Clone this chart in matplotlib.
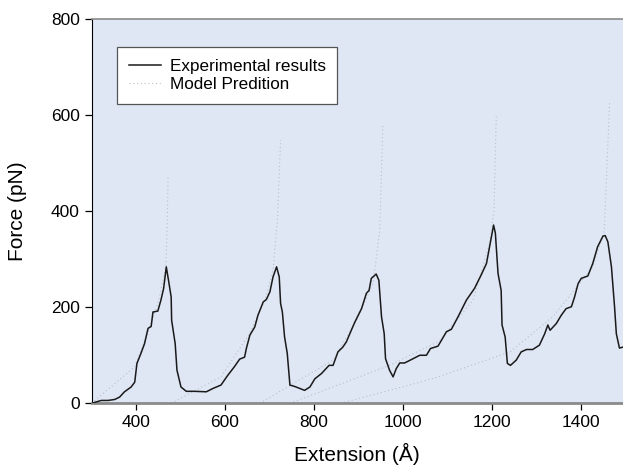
import matplotlib
matplotlib.use("Agg")
import matplotlib.pyplot as plt

plt.rcParams.update({"font.family": "Liberation Sans", "font.size": 12})

# experimental force-extension trace
ext_x = [300, 322, 337, 352, 363, 374, 389, 397, 402, 411, 419, 427, 434, 438, 449,
         456, 462, 468, 473, 479, 480, 488, 492, 501, 513, 531, 558, 573, 591, 606,
         621, 633, 644, 648, 656, 667, 674, 686, 693, 701, 708, 716, 722, 725, 729,
         734, 740, 746, 757, 768, 779, 791, 802, 817, 834, 843, 854, 865, 873, 884,
         892, 907, 918, 924, 929, 940, 946, 952, 958, 961, 970, 978, 985, 993, 1004,
         1019, 1038, 1053, 1062, 1079, 1098, 1109, 1124, 1143, 1161, 1176, 1188, 1195,
         1204, 1208, 1214, 1221, 1223, 1230, 1235, 1242, 1255, 1266, 1278, 1292, 1307,
         1319, 1326, 1331, 1345, 1356, 1367, 1379, 1386, 1394, 1401, 1416, 1427, 1438,
         1450, 1455, 1461, 1469, 1476, 1480, 1487, 1495]
ext_f = [0, 6, 6, 8, 13, 24, 34, 44, 83, 104, 124, 156, 160, 190, 192,
         215, 239, 284, 256, 221, 173, 124, 69, 34, 25, 25, 24, 31, 38, 58,
         76, 92, 96, 114, 142, 159, 183, 211, 216, 232, 263, 284, 263, 208, 190,
         138, 104, 38, 35, 31, 27, 34, 51, 62, 79, 79, 107, 117, 128, 152,
         169, 197, 229, 235, 260, 269, 256, 180, 145, 93, 69, 55, 72, 84, 84,
         91, 100, 100, 114, 119, 149, 154, 180, 215, 239, 267, 291, 326,
         371, 354, 270, 235, 163, 138, 83, 79, 90, 107, 112, 112, 121,
         145, 163, 152, 166, 183, 197, 201, 221, 249, 260, 265, 291, 326,
         348, 349, 336, 284, 201, 145, 115, 117]

# model prediction, one curve per unfolding event
model_x = [
    [300, 397, 426, 450, 467, 470, 472],
    [479, 591, 655, 690, 708, 718, 725],
    [678, 746, 843, 896, 933, 948, 955],
    [746, 970, 1038, 1083, 1158, 1195, 1205, 1210],
    [860, 970, 1038, 1083, 1241, 1337, 1427, 1453, 1465],
]
model_f = [
    [0, 76, 146, 210, 284, 370, 471],
    [0, 55, 145, 215, 277, 380, 548],
    [0, 37, 90, 173, 249, 360, 579],
    [0, 79, 110, 130, 215, 333, 400, 600],
    [0, 27, 44, 56, 107, 180, 284, 360, 628],
]

fig = plt.figure(figsize=(6.23, 4.72), dpi=100)
ax = fig.add_axes([0.147, 0.1455, 0.853, 0.8145])
ax.set_facecolor("#dfe6f4")

for i, (mx, mf) in enumerate(zip(model_x, model_f)):
    ax.plot(mx, mf, color="#b9c0cc", lw=0.8, ls=(0, (1, 2.4)),
            label="Model Predition" if i == 0 else None, zorder=2)
ax.plot(ext_x, ext_f, color="#1a1a1a", lw=1.1, label="Experimental results", zorder=3)

ax.set_xlim(300, 1495)
ax.set_ylim(0, 800)
ax.set_xticks([400, 600, 800, 1000, 1200, 1400])
ax.set_yticks([0, 200, 400, 600, 800])
ax.tick_params(direction="out", length=5, width=0.9, labelsize=12.5)
ax.set_xlabel("Extension (Å)", fontsize=15, labelpad=9)
ax.set_ylabel("Force (pN)", fontsize=15, labelpad=17)

ax.spines["right"].set_visible(False)
ax.spines["left"].set_color("black")
ax.spines["bottom"].set_color("#8a8a8a")
ax.spines["bottom"].set_linewidth(2.0)
ax.spines["top"].set_color("#8a8a8a")
ax.spines["top"].set_linewidth(1.2)

h, l = ax.get_legend_handles_labels()
leg = ax.legend(h[::-1], l[::-1], loc="upper left", bbox_to_anchor=(0.047, 0.928),
                fontsize=12.3, fancybox=False, framealpha=1, edgecolor="#555555",
                handlelength=1.9, handletextpad=0.5, borderpad=0.7,
                labelspacing=0.2, borderaxespad=0)
leg.get_frame().set_linewidth(0.9)

fig.savefig("out.png", dpi=100)
